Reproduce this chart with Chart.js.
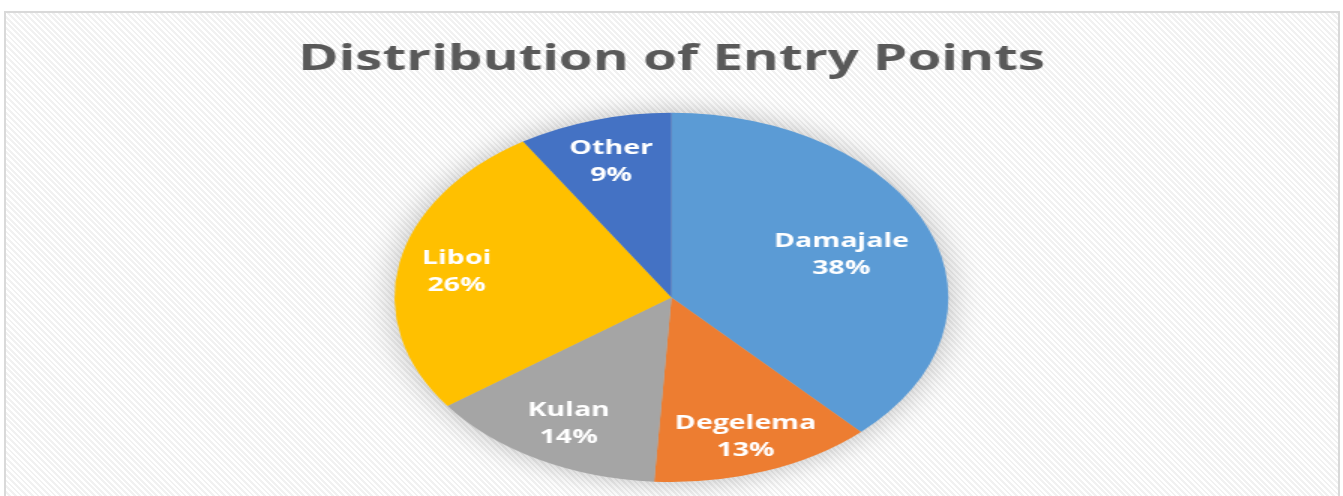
<!DOCTYPE html>
<html>
<head>
<meta charset="utf-8">
<script src="https://cdn.jsdelivr.net/npm/chart.js@4/dist/chart.umd.min.js"></script>
<style>
html,body{margin:0;padding:0;background:#ffffff;}
body{width:1343px;height:496px;overflow:hidden;position:relative;}
#frame{position:absolute;left:4px;top:11px;width:1332px;height:500px;border:2px solid #d9d9d9;
  background:repeating-linear-gradient(45deg,#ffffff 0px,#ffffff 2px,#f1f1f1 2px,#f1f1f1 4px);}
#wrap{position:absolute;left:0;top:0;width:895.33px;height:496px;transform:scaleX(1.5);transform-origin:0 0;}
</style>
</head>
<body>
<div id="frame"></div>
<div id="wrap"><canvas id="c"></canvas></div>
<script>
const categories = ["Damajale", "Degelema", "Kulan", "Liboi", "Other"];
const shares = [38, 13, 14, 26, 9];
const sliceColors = ["#5B9BD5", "#ED7D31", "#A5A5A5", "#FFC000", "#4472C4"];
const labelRadius = [0.66, 0.79, 0.77, 0.79, 0.78];

const shadowPlugin = {
  id: 'pieShadow',
  beforeDatasetsDraw(chart) {
    const arc = chart.getDatasetMeta(0).data[0];
    if (!arc) return;
    const ctx = chart.ctx;
    ctx.save();
    ctx.shadowColor = 'rgba(0,0,0,0.28)';
    ctx.shadowBlur = 26;
    ctx.fillStyle = '#bbbbbb';
    ctx.beginPath();
    ctx.arc(arc.x, arc.y, arc.outerRadius - 1, 0, Math.PI * 2);
    ctx.fill();
    ctx.restore();
  }
};

const labelPlugin = {
  id: 'sliceLabels',
  afterDatasetsDraw(chart) {
    const ctx = chart.ctx;
    const meta = chart.getDatasetMeta(0);
    ctx.save();
    ctx.fillStyle = '#ffffff';
    ctx.textAlign = 'center';
    ctx.textBaseline = 'middle';
    ctx.font = 'bold 19px "Open Sans", sans-serif';
    meta.data.forEach((arc, i) => {
      const mid = (arc.startAngle + arc.endAngle) / 2;
      const r = arc.outerRadius * labelRadius[i];
      const x = arc.x + Math.cos(mid) * r;
      const y = arc.y + Math.sin(mid) * r + 2;
      ctx.fillText(categories[i], x, y - 13);
      ctx.fillText(shares[i] + '%', x, y + 14);
    });
    ctx.restore();
  }
};

new Chart(document.getElementById('c'), {
  type: 'pie',
  data: {
    labels: categories,
    datasets: [{
      data: shares,
      backgroundColor: sliceColors,
      borderWidth: 0
    }]
  },
  options: {
    responsive: true,
    maintainAspectRatio: false,
    animation: false,
    layout: { padding: { top: 0, bottom: 14, left: 0, right: 0 } },
    plugins: {
      legend: { display: false },
      tooltip: { enabled: false },
      title: {
        display: true,
        text: 'Distribution of Entry Points',
        color: '#595959',
        font: { family: '"Open Sans", sans-serif', size: 36.5, weight: 'bold', lineHeight: 1.2 },
        padding: { top: 38, bottom: 31 }
      }
    }
  },
  plugins: [shadowPlugin, labelPlugin]
});
</script>
</body>
</html>
